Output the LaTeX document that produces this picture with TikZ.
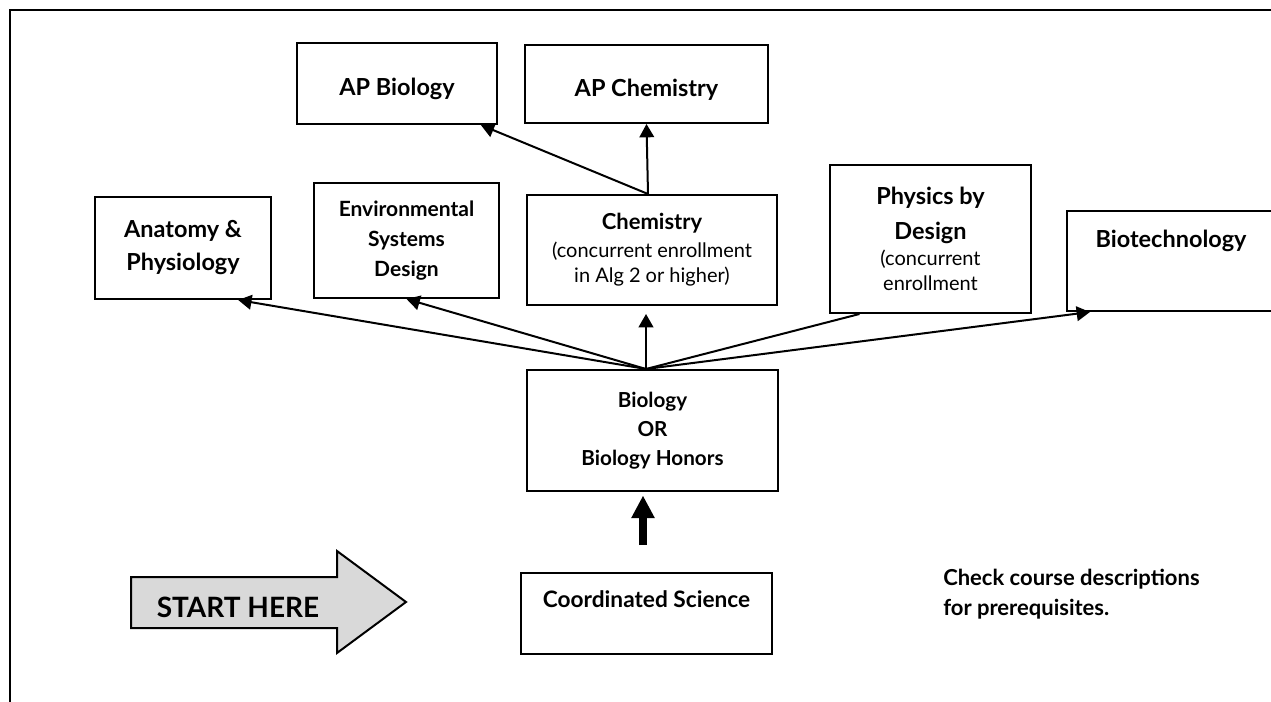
\documentclass[tikz,border=0pt]{standalone}
\usepackage{fontspec}
\setmainfont{Lato}
\usetikzlibrary{arrows.meta,calc}
\definecolor{startgray}{RGB}{217,217,217}
\newcommand\smalltxt{\mdseries\fontsize{15}{18}\selectfont}
\tikzset{
  box/.style={draw, line width=1.5pt, inner sep=0pt, align=center},
  con/.style={line width=1.5pt, -{Triangle[length=10pt,width=11pt]}},
  plainline/.style={line width=1.5pt},
  thickarrow/.style={line width=6pt, -{Triangle[length=17pt,width=16.5pt]}},
  bigfont/.style={font=\bfseries\fontsize{17.6}{24.75}\selectfont},
}
\begin{document}
\begin{tikzpicture}[x=0.75pt,y=-0.75pt]
\useasboundingbox (0,0) rectangle (1271,702);
\clip (0,0) rectangle (1271,702);
% frame
\draw[line width=1.8pt] (10,720) -- (10,10) -- (1290,10);
% boxes
\node[box, bigfont, minimum width=150pt, minimum height=60.75pt, text height=18.75pt, text depth=0pt] (apbio) at (397,83.5) {AP Biology};
\node[box, bigfont, minimum width=182.25pt, minimum height=58.5pt, text height=19.5pt, text depth=0pt] (apchem) at (646.5,84) {AP Chemistry};
\node[box, bigfont, minimum width=132pt, minimum height=76.5pt] (ana) at (183,248) {Anatomy \&\\Physiology};
\node[box, font=\bfseries\fontsize{15.75}{22.5}\selectfont, minimum width=138.75pt, minimum height=86.25pt] (env) at (406.5,240.5) {Environmental\\Systems\\Design};
\node[box, font=\bfseries\fontsize{16.5}{18.75}\selectfont, minimum width=187.5pt, minimum height=82.5pt] (chem) at (652,250) {Chemistry\\[2.25pt]\smalltxt(concurrent enrollment\\\smalltxt in Alg 2 or higher)};
\node[box, font=\bfseries\fontsize{17.6}{18.75}\selectfont, minimum width=150.75pt, minimum height=111pt] (phys) at (930.5,239) {Physics by\\[7.5pt]Design\\[0.75pt]\smalltxt(concurrent\\\smalltxt enrollment};
\node[box, bigfont, minimum width=156pt, minimum height=75pt, text height=12.75pt, text depth=32.25pt] (bt) at (1171,261) {Biotechnology};
\node[box, font=\bfseries\fontsize{15.5}{21.75}\selectfont, minimum width=188.25pt, minimum height=90.75pt] (bio) at (652.5,430.5) {Biology\\OR\\Biology Honors};
\node[box, font=\bfseries\fontsize{17}{20}\selectfont, minimum width=188.25pt, minimum height=60.75pt, text height=12pt, text depth=21.75pt] (coord) at (646.5,613.5) {Coordinated Science};
% note
\node[anchor=north west, inner sep=0pt, align=left, font=\bfseries\fontsize{16.5}{22.5}\selectfont] (note) at (943,569) {Check course descriptions\\for prerequisites.};
% start arrow
\draw[line width=1.5pt, fill=startgray, line join=miter] (131,577) -- (337,577) -- (337,551) -- (406,602) -- (337,653) -- (337,628) -- (131,628) -- cycle;
\node[inner sep=0pt, font=\bfseries\fontsize{21}{25}\selectfont] (start) at (238,607) {START HERE};
% connectors
\coordinate (hub) at ($(bio.north)+(-6.5,0)$);
\coordinate (chemtop) at ($(chem.north)+(-4,0)$);
\draw[con] (hub) -- ($(ana.south west)!0.81!(ana.south east)$);
\draw[con] (hub) -- (env.south);
\draw[con] (hub) -- ($(chem.south)+(-6,8)$);
\draw[plainline] (hub) -- ($(phys.south west)!0.15!(phys.south east)$);
\draw[con] (hub) -- ($(bt.south west)+(24,0)$);
\draw[con] (chemtop) -- ($(apbio.south west)!0.915!(apbio.south east)$);
\draw[con] (chemtop) -- (apchem.south);
\draw[thickarrow] ($(coord.north)+(-3.5,-27)$) -- ($(bio.south)+(-9.5,3.5)$);
\end{tikzpicture}
\end{document}
